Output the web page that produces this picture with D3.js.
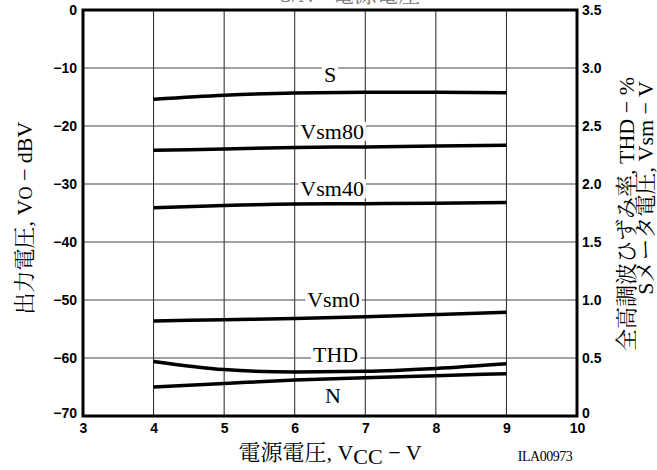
<!DOCTYPE html>
<html>
<head>
<meta charset="utf-8">
<script src="https://cdn.jsdelivr.net/npm/d3@7"></script>
<style>
  body { margin: 0; background: #fff; }
  svg { display: block; }
  .tick text { font-family: "Liberation Sans", Arial, sans-serif; font-weight: bold; font-size: 14px; }
  .lbl { font-family: "Liberation Serif", "Noto Serif CJK JP", serif; font-size: 22px; fill: #000; }
</style>
</head>
<body>
<div class="my_div"></div>
<script>
// supply voltage points
var vcc = [4, 5, 6, 7, 8, 9];

// left axis series (dBV)
var sLevel = [-15.4, -14.7, -14.3, -14.2, -14.2, -14.25];
var vsm80 = [-24.2, -23.95, -23.7, -23.6, -23.45, -23.3];
var vsm40 = [-34.1, -33.7, -33.45, -33.4, -33.3, -33.2];
var vsm0 = [-53.6, -53.4, -53.2, -52.9, -52.5, -52.1];
var noise = [-65.0, -64.4, -63.8, -63.4, -63.05, -62.7];

// right axis series (%)
var thd = [0.47, 0.40, 0.38, 0.385, 0.41, 0.45];

var xTicks = [3, 4, 5, 6, 7, 8, 9, 10];
var yTicks = [0, -10, -20, -30, -40, -50, -60, -70];
var y2Ticks = [0, 0.5, 1.0, 1.5, 2.0, 2.5, 3.0, 3.5];

var width = 657, height = 470;
var padL = 83, padR = 577, padT = 10, padB = 416;

var xScale = d3.scaleLinear().domain([3, 10]).range([padL, padR]);
var yScale = d3.scaleLinear().domain([-70, 0]).range([padB, padT]);
var y2Scale = d3.scaleLinear().domain([0, 3.5]).range([padB, padT]);

var svg = d3.select(".my_div")
    .append("svg")
    .attr("width", width)
    .attr("height", height);

// title (cut off at the top edge)
svg.append("text")
    .attr("class", "lbl")
    .attr("x", 350)
    .attr("y", 2)
    .attr("text-anchor", "middle")
    .style("fill", "#777")
    .text("S/N - 電源電圧")

// grid
svg.append("g")
    .selectAll("line")
    .data(xTicks.slice(1, -1))
    .enter()
    .append("line")
    .attr("x1", (d) => { return xScale(d) })
    .attr("x2", (d) => { return xScale(d) })
    .attr("y1", padT)
    .attr("y2", padB)
    .attr("stroke", "#222")
    .attr("stroke-width", 1)

svg.append("g")
    .selectAll("line")
    .data(yTicks.slice(1, -1))
    .enter()
    .append("line")
    .attr("x1", padL)
    .attr("x2", padR)
    .attr("y1", (d) => { return yScale(d) })
    .attr("y2", (d) => { return yScale(d) })
    .attr("stroke", "#444")
    .attr("stroke-width", 1)

// axes
var fmtY = (d) => { return d < 0 ? "\u2212" + Math.abs(d) : String(d) }

svg.append("g")
    .attr("transform", "translate(0," + padB + ")")
    .call(d3.axisBottom(xScale).tickValues(xTicks).tickFormat(d3.format("d")).tickSize(0).tickPadding(7))
    .call(g => g.select(".domain").remove())
    .selectAll("text").attr("fill", "#000")

svg.append("g")
    .attr("transform", "translate(" + padL + ",0)")
    .call(d3.axisLeft(yScale).tickValues(yTicks).tickFormat(fmtY).tickSize(0).tickPadding(6))
    .call(g => g.select(".domain").remove())
    .selectAll("text").attr("fill", "#000").attr("dy", (d) => { return d == -70 ? "0.1em" : "0.32em" })

svg.append("g")
    .attr("transform", "translate(" + padR + ",0)")
    .call(d3.axisRight(y2Scale).tickValues(y2Ticks).tickFormat((d) => { return d == 0 ? "0" : d3.format(".1f")(d) }).tickSize(0).tickPadding(5))
    .call(g => g.select(".domain").remove())
    .selectAll("text").attr("fill", "#000").attr("dy", (d) => { return d == 0 ? "0.1em" : "0.32em" })

// frame
svg.append("rect")
    .attr("x", padL)
    .attr("y", padT)
    .attr("width", padR - padL)
    .attr("height", padB - padT)
    .attr("fill", "none")
    .attr("stroke", "#000")
    .attr("stroke-width", 3)

// curves
var line = d3.line()
    .x((d) => { return xScale(d[0]) })
    .y((d) => { return d[1] })
    .curve(d3.curveMonotoneX)

// lx, ly: label position (baseline) in data units
var series = [
    { name: "S", vals: sLevel, sc: yScale, lx: 6.5, ly: -12.4 },
    { name: "Vsm80", vals: vsm80, sc: yScale, lx: 6.53, ly: -22.2 },
    { name: "Vsm40", vals: vsm40, sc: yScale, lx: 6.53, ly: -32.1 },
    { name: "Vsm0", vals: vsm0, sc: yScale, lx: 6.55, ly: -51.2 },
    { name: "THD", vals: thd, sc: y2Scale, lx: 6.58, ly: 0.466 },
    { name: "N", vals: noise, sc: yScale, lx: 6.54, ly: -67.8 }
]

series.forEach((s) => {
    svg.append("path")
        .datum(vcc.map((v, i) => { return [v, s.sc(s.vals[i])] }))
        .attr("d", line)
        .attr("fill", "none")
        .attr("stroke", "#000")
        .attr("stroke-width", 3.5)
})

// curve labels with white boxes
series.forEach((s) => {
    var g = svg.append("g")
    var t = g.append("text")
        .attr("class", "lbl")
        .attr("x", xScale(s.lx))
        .attr("y", s.sc(s.ly))
        .attr("text-anchor", "middle")
        .text(s.name)
    var bb = t.node().getBBox()
    g.insert("rect", "text")
        .attr("x", bb.x - 2)
        .attr("y", bb.y + 3)
        .attr("width", bb.width + 4)
        .attr("height", bb.height - 6)
        .attr("fill", "#fff")
})

// axis titles
var yl = svg.append("text")
    .attr("class", "lbl")
    .attr("transform", "translate(32,218) rotate(-90)")
    .attr("text-anchor", "middle")
yl.append("tspan").text("出力電圧, V")
yl.append("tspan").style("font-size", "18px").text("O")
yl.append("tspan").text(" − dBV")

svg.append("text")
    .attr("class", "lbl")
    .attr("transform", "translate(634,77) rotate(-90)")
    .attr("text-anchor", "end")
    .text("全高調波ひずみ率, THD − %")

svg.append("text")
    .attr("class", "lbl")
    .attr("transform", "translate(653,81) rotate(-90)")
    .attr("text-anchor", "end")
    .text("Sメータ電圧, Vsm − V")

var xl = svg.append("text")
    .attr("class", "lbl")
    .attr("x", 330)
    .attr("y", 460)
    .attr("text-anchor", "middle")
xl.append("tspan").text("電源電圧, V")
xl.append("tspan").attr("dy", 4).text("CC")
xl.append("tspan").attr("dy", -4).text(" − V")

svg.append("text")
    .attr("x", 545)
    .attr("y", 461)
    .attr("text-anchor", "middle")
    .style("font-family", "'Liberation Serif', serif")
    .style("font-size", "14px")
    .style("letter-spacing", "-0.5px")
    .text("ILA00973")
</script>
</body>
</html>
